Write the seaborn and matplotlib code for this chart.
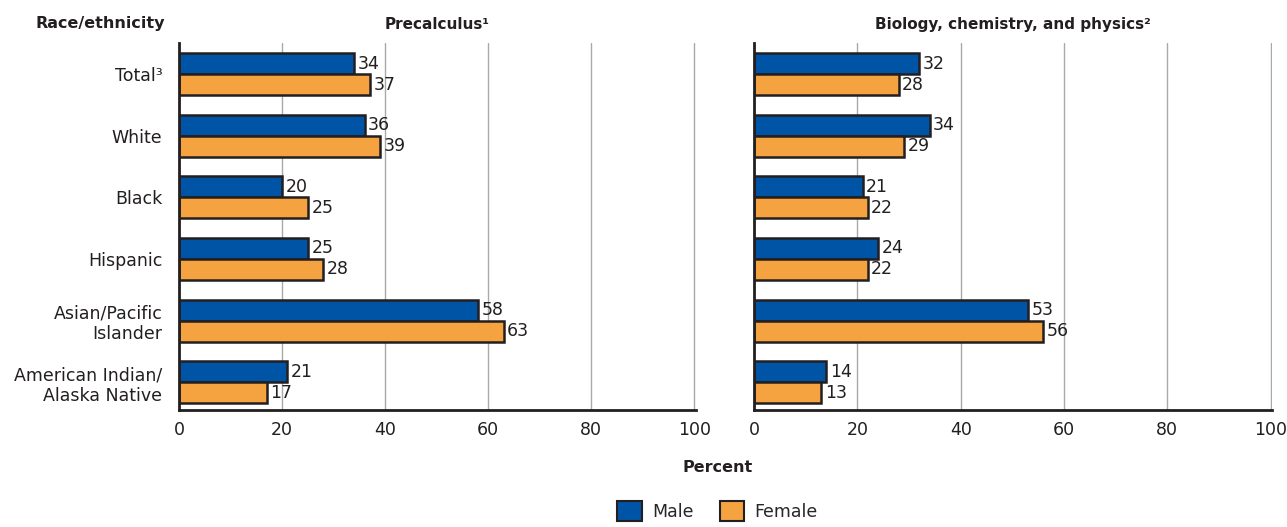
import matplotlib
matplotlib.use("Agg")
import matplotlib.pyplot as plt
import seaborn as sns
import pandas as pd
from matplotlib.patches import Patch

categories = ["Total³", "White", "Black", "Hispanic", "Asian/Pacific\nIslander", "American Indian/\nAlaska Native"]
precalc_male = [34, 36, 20, 25, 58, 21]
precalc_female = [37, 39, 25, 28, 63, 17]
science_male = [32, 34, 21, 24, 53, 14]
science_female = [28, 29, 22, 22, 56, 13]
sexes = ["Male", "Female"]
xticks = [0, 20, 40, 60, 80, 100]

BLUE = "#0054A6"
ORANGE = "#F4A340"
EDGE = "#231F20"

sns.set_theme(style="white")
plt.rcParams["font.family"] = ["DejaVu Sans"]

def make_df(male, female):
    rows = []
    for c, m, f in zip(categories, male, female):
        rows.append({"cat": c, "sex": "Male", "pct": m})
        rows.append({"cat": c, "sex": "Female", "pct": f})
    return pd.DataFrame(rows)

fig = plt.figure(figsize=(12.87, 5.27), dpi=100)
ax1 = fig.add_axes([0.1391, 0.222, 0.4017, 0.696])
ax2 = fig.add_axes([0.5859, 0.222, 0.4025, 0.696])

panels = [(ax1, precalc_male, precalc_female, "Precalculus¹"),
          (ax2, science_male, science_female, "Biology, chemistry, and physics²")]

for ax, male, female, title in panels:
    df = make_df(male, female)
    sns.barplot(data=df, y="cat", x="pct", hue="sex", hue_order=sexes,
                palette=[BLUE, ORANGE], orient="h", width=0.68, dodge=True,
                edgecolor=EDGE, linewidth=1.8, ax=ax, legend=False, errorbar=None,
                saturation=1)
    for cont in ax.containers:
        ax.bar_label(cont, fmt="%d", padding=2.5, fontsize=12.5, color="#231F20")
    ax.set_xlim(0, 100.3)
    ax.set_ylim(5.45, -0.5)
    ax.set_xticks(xticks)
    ax.set_xticklabels([str(t) for t in xticks], fontsize=12.5, color="#231F20")
    ax.xaxis.grid(True, color="#A7A9AC", linewidth=1)
    ax.set_axisbelow(True)
    ax.tick_params(axis="x", length=0, pad=8)
    ax.tick_params(axis="y", length=0)
    for s in ["top", "right"]:
        ax.spines[s].set_visible(False)
    ax.spines["left"].set_color(EDGE)
    ax.spines["left"].set_linewidth(2)
    ax.spines["bottom"].set_color(EDGE)
    ax.spines["bottom"].set_linewidth(2)
    ax.set_xlabel("")
    ax.set_ylabel("")
    ax.set_title(title, fontsize=11, fontweight="bold", color="#231F20", pad=10)

ax1.set_yticks(range(len(categories)))
ax1.set_yticklabels(categories, fontsize=12.5, color="#231F20", ha="right")
ax1.tick_params(axis="y", pad=12)
ax2.set_yticklabels([])

fig.text(0.128, 0.955, "Race/ethnicity", fontsize=11.5, fontweight="bold",
         ha="right", va="center", color="#231F20")
fig.text(0.5575, 0.112, "Percent", fontsize=11.5, fontweight="bold",
         ha="center", va="center", color="#231F20")

handles = [Patch(facecolor=BLUE, edgecolor=EDGE, linewidth=1.5, label="Male"),
           Patch(facecolor=ORANGE, edgecolor=EDGE, linewidth=1.5, label="Female")]
fig.legend(handles=handles, loc="center", bbox_to_anchor=(0.5575, 0.03), ncol=2,
           frameon=False, fontsize=12.5, handlelength=1.4, handleheight=1.4,
           columnspacing=1.5, handletextpad=0.6)

fig.savefig("out.png", dpi=100)
